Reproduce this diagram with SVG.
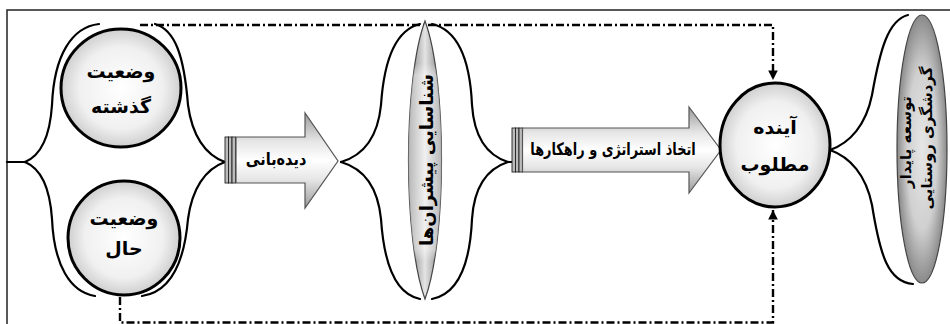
<svg xmlns="http://www.w3.org/2000/svg" width="950" height="324" viewBox="0 0 950 324">
<defs>
<radialGradient id="gCircle" cx="0.5" cy="0.5" r="0.5">
<stop offset="0" stop-color="#ffffff"/>
<stop offset="0.7" stop-color="#f0f0f0"/>
<stop offset="1" stop-color="#cfcfcf"/>
</radialGradient>
<linearGradient id="gArrow" x1="0" y1="0" x2="0" y2="1">
<stop offset="0" stop-color="#9a9a9a"/>
<stop offset="0.3" stop-color="#e6e6e6"/>
<stop offset="0.5" stop-color="#ffffff"/>
<stop offset="0.7" stop-color="#e6e6e6"/>
<stop offset="1" stop-color="#9a9a9a"/>
</linearGradient>
<linearGradient id="gLens" x1="0" y1="0" x2="1" y2="0">
<stop offset="0" stop-color="#7e7e7e"/>
<stop offset="0.5" stop-color="#e4e4e4"/>
<stop offset="1" stop-color="#7e7e7e"/>
</linearGradient>
<linearGradient id="gBand" x1="0" y1="0" x2="0" y2="1">
<stop offset="0" stop-color="#ffffff" stop-opacity="0"/>
<stop offset="0.06" stop-color="#ffffff" stop-opacity="0.45"/>
<stop offset="0.94" stop-color="#ffffff" stop-opacity="0.45"/>
<stop offset="1" stop-color="#ffffff" stop-opacity="0"/>
</linearGradient>
<radialGradient id="gLens2" cx="0.5" cy="0.5" r="0.5">
<stop offset="0" stop-color="#e6e6e6"/>
<stop offset="0.6" stop-color="#d0d0d0"/>
<stop offset="1" stop-color="#8a8a8a"/>
</radialGradient>
<clipPath id="lensClip"><path d="M425,21 C447,80 447,240 425,299 C403,240 403,80 425,21 Z"/></clipPath>
<marker id="ah" viewBox="0 0 10 10" refX="10" refY="5" markerWidth="4" markerHeight="4" orient="auto" markerUnits="strokeWidth">
<path d="M0,0 L10,5 L0,10 Z" fill="#000"/>
</marker>
</defs>
<style>
.brace{fill:none;stroke:#000;stroke-width:2.2;stroke-linecap:round}
.circ{fill:url(#gCircle);stroke:#000;stroke-width:3}
.arrow{fill:url(#gArrow);stroke:#555;stroke-width:1.2}
.stripe{fill:#bbb;stroke:#222;stroke-width:0.9}
.dash{fill:none;stroke:#000;stroke-width:2.4;stroke-dasharray:8 3 2 3}
.t{font-family:"DejaVu Sans",sans-serif;font-weight:bold;fill:#000;text-anchor:middle;dominant-baseline:central}
.tc{font-size:19px}
.ta{font-size:17px}
.tl{font-size:18px}
.tr{font-size:15px}
</style>
<rect x="7" y="10" width="960" height="340" fill="#fff" stroke="#222" stroke-width="1.5"/>

<g id="connectors">
<path class="dash" d="M140,25 L773,25 L773,80" marker-end="url(#ah)"/>
<path class="dash" d="M120,297 L120,322.5 L773,322.5 L773,210" marker-end="url(#ah)"/>
<path class="brace" d="M7,162 L25,162"/>
<path class="brace" d="M25,162 C42,155 50,135 52,105 C54,55 72,27 99,24"/>
<path class="brace" d="M25,162 C42,169 50,189 52,219 C54,265 70,292 95,296"/>
<path class="brace" d="M225,162 C205,155 192,135 188,105 C184,55 175,30 155,24"/>
<path class="brace" d="M225,162 C205,169 192,189 188,219 C184,265 170,292 142,296"/>
<path class="brace" d="M341,162 C365,155 378,135 381,105 C384,60 395,30 420,24"/>
<path class="brace" d="M341,162 C365,169 378,189 381,219 C384,264 395,294 420,299"/>
<path class="brace" d="M508,162 C486,155 474,135 472,105 C470,60 458,30 432,24"/>
<path class="brace" d="M508,162 C486,169 474,189 472,219 C470,264 458,294 432,299"/>
<path class="brace" d="M512,162 L508,162"/>
<path class="brace" d="M830,150 C850,143 866,125 872,95 C880,50 888,20 908,15"/>
<path class="brace" d="M830,150 C850,157 866,175 872,205 C880,255 888,282 913,284"/>
</g>

<g id="node-past">
<ellipse class="circ" cx="121" cy="88" rx="60" ry="59"/>
<text class="t tc" x="121" y="71">وضعیت</text>
<text class="t tc" x="121" y="106">گذشته</text>
</g>

<g id="node-present">
<ellipse class="circ" cx="124" cy="238" rx="56" ry="57"/>
<text class="t tc" x="124" y="218">وضعیت</text>
<text class="t tc" x="124" y="248">حال</text>
</g>

<g id="arrow-monitoring">
<rect class="stripe" x="225" y="137" width="3.5" height="46"/>
<rect class="stripe" x="228.5" y="137" width="3.5" height="46"/>
<rect class="stripe" x="232" y="137" width="3.5" height="46"/>
<path class="arrow" d="M236,137 L305,137 L305,113 L338,161 L305,208 L305,183 L236,183 Z"/>
<text class="t ta" transform="translate(276,159) scale(0.85,1)">دیده‌بانی</text>
</g>

<g id="node-drivers">
<path d="M425,21 C447,80 447,240 425,299 C403,240 403,80 425,21 Z" fill="url(#gLens)" stroke="#444" stroke-width="1.2"/>
<rect x="405" y="63" width="42" height="198" fill="url(#gBand)" clip-path="url(#lensClip)"/>
<text class="t tl" transform="translate(426,160) rotate(-90)">شناسایی پیشران‌ها</text>
</g>

<g id="arrow-strategy">
<rect class="stripe" x="512" y="128" width="3.5" height="44"/>
<rect class="stripe" x="515.5" y="128" width="3.5" height="44"/>
<rect class="stripe" x="519" y="128" width="3.5" height="44"/>
<path class="arrow" d="M522.5,128 L689,128 L689,107 L721,150 L689,193 L689,172 L522.5,172 Z"/>
<text class="t ta" transform="translate(613,149) scale(0.76,1)">اتخاذ استراتژی و راهکارها</text>
</g>

<g id="node-future">
<ellipse class="circ" cx="775" cy="145" rx="55" ry="62"/>
<text class="t tc" x="775" y="127">آینده</text>
<text class="t tc" x="775" y="164">مطلوب</text>
</g>

<g id="node-goal">
<ellipse cx="922" cy="149" rx="25" ry="134" fill="url(#gLens2)" stroke="#444" stroke-width="1.2"/>
<text class="t tr" transform="translate(906,142) rotate(-90)">توسعه پایدار</text>
<text class="t tr" transform="translate(927,138) rotate(-90)">گردشگری روستایی</text>
</g>
</svg>
